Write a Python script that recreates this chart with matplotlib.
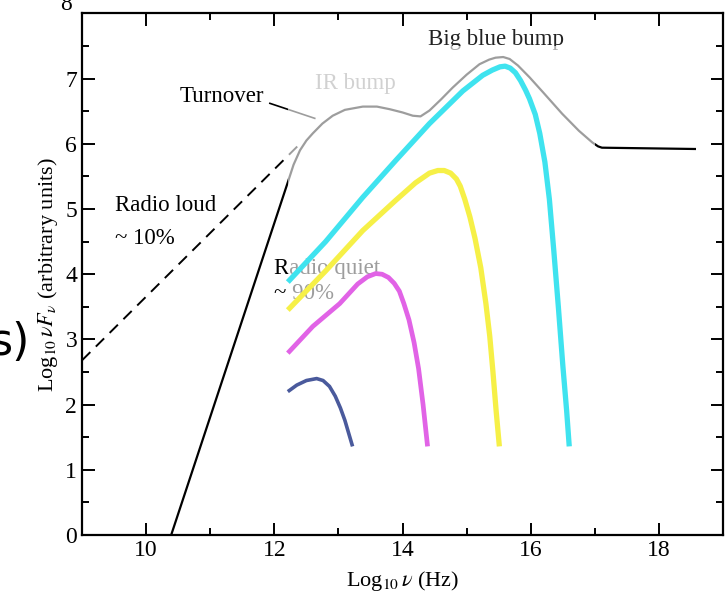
import matplotlib.pyplot as plt
from matplotlib.patches import Rectangle
from matplotlib.ticker import MultipleLocator

# continuum (radio quiet steep rise + IR bump + big blue bump + X-ray)
cont_x = [10.39, 12.21, 12.3, 12.4, 12.5, 12.6, 12.75, 12.91, 13.1, 13.38, 13.6, 13.8,
          14.0, 14.16, 14.28, 14.42, 14.6, 14.78, 15.0, 15.2, 15.35, 15.45, 15.57,
          15.67, 15.8, 15.98, 16.2, 16.49, 16.75, 16.96, 17.05, 17.11, 18.56]
cont_y = [0.0, 5.41, 5.68, 5.9, 6.05, 6.16, 6.31, 6.43, 6.52, 6.57, 6.57, 6.53,
          6.48, 6.43, 6.42, 6.51, 6.68, 6.86, 7.06, 7.22, 7.29, 7.32, 7.33,
          7.30, 7.2, 7.02, 6.78, 6.46, 6.2, 6.02, 5.96, 5.94, 5.92]

# radio loud extension (dashed)
loud_x = [9.0, 12.4]
loud_y = [2.68, 6.0]

# coloured bumps
cyan_x = [12.21, 12.8, 13.38, 13.89, 14.42, 14.94, 15.25, 15.4, 15.52, 15.6, 15.68,
          15.76, 15.84, 15.92, 15.98, 16.07, 16.14, 16.22, 16.29, 16.36, 16.43,
          16.5, 16.56, 16.6]
cyan_y = [3.88, 4.5, 5.18, 5.74, 6.31, 6.81, 7.05, 7.13, 7.18, 7.19, 7.16,
          7.09, 6.97, 6.82, 6.69, 6.45, 6.16, 5.72, 5.15, 4.35, 3.5,
          2.6, 1.9, 1.36]
yel_x = [12.21, 12.8, 13.38, 13.89, 14.2, 14.42, 14.55, 14.65, 14.75, 14.84, 14.9,
         14.97, 15.05, 15.13, 15.22, 15.3, 15.36, 15.41, 15.46, 15.51]
yel_y = [3.45, 4.05, 4.67, 5.13, 5.4, 5.55, 5.59, 5.59, 5.55, 5.46, 5.35,
         5.15, 4.88, 4.55, 4.1, 3.55, 3.05, 2.5, 1.9, 1.36]
mag_x = [12.21, 12.6, 13.02, 13.3, 13.45, 13.58, 13.68, 13.78, 13.87, 13.95, 14.02,
         14.1, 14.18, 14.25, 14.32, 14.39]
mag_y = [2.79, 3.2, 3.55, 3.85, 3.96, 4.01, 4.0, 3.95, 3.86, 3.74, 3.55,
         3.3, 2.95, 2.55, 2.0, 1.36]
navy_x = [12.21, 12.35, 12.5, 12.66, 12.76, 12.86, 12.95, 13.03, 13.1, 13.16, 13.22]
navy_y = [2.2, 2.3, 2.37, 2.4, 2.37, 2.28, 2.13, 1.95, 1.76, 1.56, 1.36]

y_ticks = [0, 1, 2, 3, 4, 5, 6, 7, 8]
y_labels = ['0', '1', '2', '3', '4', '5', '6', '7', '']

plt.rcParams['font.family'] = ['Liberation Serif', 'DejaVu Serif']
plt.rcParams['mathtext.fontset'] = 'stix'

fig = plt.figure(figsize=(7.26, 6.06), dpi=100)
ax = fig.add_axes([0.113, 0.117, 0.883, 0.861])

ax.plot(cont_x, cont_y, color='black', lw=1.6, zorder=2)
ax.plot(loud_x, loud_y, color='black', lw=1.4, ls=(0, (6, 4)), zorder=2)
ax.plot([11.93, 12.63], [6.62, 6.39], color='black', lw=1.2, zorder=2)

ax.text(10.53, 6.72, 'Turnover', fontsize=16.5, va='center', zorder=2)
ax.text(12.63, 6.92, 'IR bump', fontsize=16.5, va='center', color='#888888', zorder=2)
ax.text(14.39, 7.6, 'Big blue bump', fontsize=16.5, va='center', color='#222222', zorder=2)
ax.text(9.51, 5.05, 'Radio loud', fontsize=16.5, va='center', zorder=2)
ax.text(9.51, 4.55, '~ 10%', fontsize=16.5, va='center', zorder=2)
ax.text(12.0, 4.09, 'Radio quiet', fontsize=16.5, va='center', zorder=2)
ax.text(12.0, 3.7, '~ 90%', fontsize=16.5, va='center', zorder=2)

# pasted-over panel that greys out what lies beneath it
ax.add_patch(Rectangle((12.21, 1.36), 17.0 - 12.21, 7.5 - 1.36,
                       facecolor='white', alpha=0.62, edgecolor='none', zorder=3))

kw = dict(solid_joinstyle='round', solid_capstyle='butt', zorder=4)
ax.plot(cyan_x, cyan_y, color='#3fe3ef', lw=3.8, **kw)
ax.plot(yel_x, yel_y, color='#f6f047', lw=3.8, **kw)
ax.plot(mag_x, mag_y, color='#e163e6', lw=3.4, **kw)
ax.plot(navy_x, navy_y, color='#4a5a9c', lw=2.6, **kw)

ax.set_xlim(9, 19)
ax.set_ylim(0, 8)
ax.xaxis.set_major_locator(MultipleLocator(2))
ax.xaxis.set_minor_locator(MultipleLocator(1))
ax.set_yticks(y_ticks, y_labels)
ax.yaxis.set_minor_locator(MultipleLocator(0.5))
ax.tick_params(which='both', direction='in', top=True, right=True, labelsize=17, width=1.4)
ax.tick_params(which='major', length=9)
ax.tick_params(which='minor', length=5)
for sp in ax.spines.values():
    sp.set_linewidth(1.6)

# the top "8" sits higher in the scan, half cut by the page edge
ax.annotate('8', xy=(0, 8), xycoords=('axes fraction', 'data'),
            xytext=(-7, 6), textcoords='offset points',
            ha='right', va='center', fontsize=17, annotation_clip=False)

ax.set_xlabel(r'Log$_{10}\,\nu$ (Hz)', fontsize=16, labelpad=6)
ax.set_ylabel(r'Log$_{10}\,\nu F_\nu$ (arbitrary units)', fontsize=16, labelpad=4)

# leftover of a larger slide label at the left edge
fig.text(-0.014, 0.434, 's)', fontsize=32, va='center', ha='left', family='DejaVu Sans')

fig.savefig('out.png', dpi=100)
